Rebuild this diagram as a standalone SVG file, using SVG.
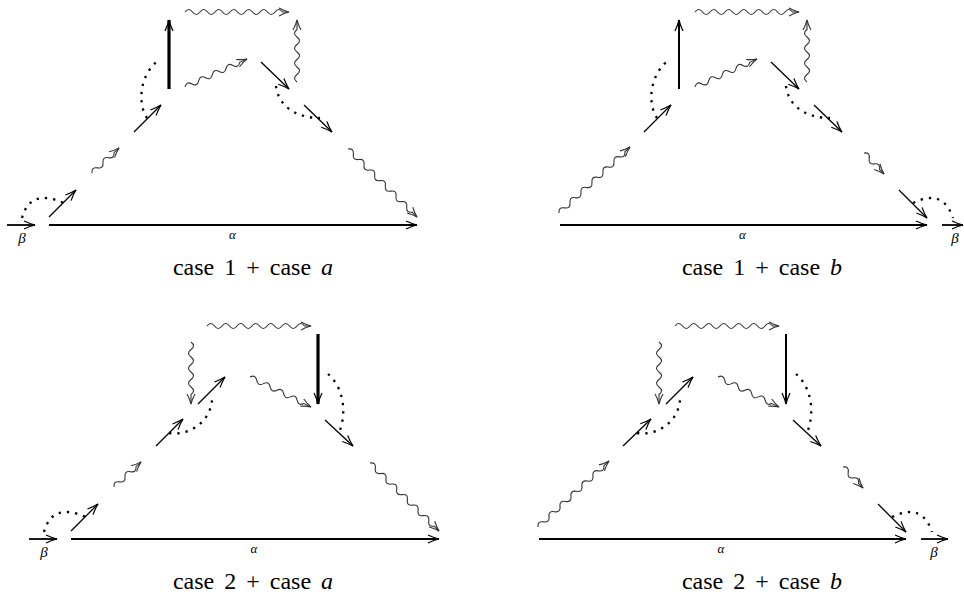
<svg xmlns="http://www.w3.org/2000/svg" width="964" height="597" viewBox="0 0 964 597">
<style>
.ln{stroke:#000;stroke-width:1.8;fill:none;marker-end:url(#ah)}
.ar{stroke:#000;stroke-width:1.3;fill:none;marker-end:url(#ah)}
.thk{stroke:#000;stroke-width:3.2;fill:none;marker-end:url(#ah)}
.mid{stroke:#000;stroke-width:2;fill:none;marker-end:url(#ah)}
.dot{stroke:#000;stroke-width:2.3;fill:none;stroke-dasharray:2.3 6}
.wv{stroke:#333;stroke-width:1.1;fill:none;marker-end:url(#wh)}
.cap{font-family:"Liberation Serif","Times New Roman",serif;font-size:24px;text-anchor:middle;word-spacing:4px;fill:#000}
.gk{font-family:"Liberation Serif","Times New Roman",serif;font-style:italic;text-anchor:middle;fill:#000}
</style>
<defs>
<marker id="ah" markerUnits="userSpaceOnUse" orient="auto" markerWidth="1" markerHeight="1" style="overflow:visible">
<path d="M-11 -4 Q-5 -1.2 0 0 Q-5 1.2 -11 4" fill="none" stroke="#000" stroke-width="1.2"/>
</marker>
<marker id="wh" markerUnits="userSpaceOnUse" orient="auto" markerWidth="1" markerHeight="1" style="overflow:visible">
<path d="M-10 -4 Q-5 -1.2 0 0 Q-5 1.2 -10 4" fill="none" stroke="#333" stroke-width="1.1"/>
</marker>
<path id="w104" class="wv" d="M0 0q3.75 -5 7.5 0t7.5 0t7.5 0t7.5 0t7.5 0t7.5 0t7.5 0t7.5 0t7.5 0t7.5 0t7.5 0t7.5 0t7.5 0L104 0"/>
<path id="w97" class="wv" d="M0 0q3.75 -5 7.5 0t7.5 0t7.5 0t7.5 0t7.5 0t7.5 0t7.5 0t7.5 0t7.5 0t7.5 0t7.5 0t7.5 0L97 0"/>
<path id="w68" class="wv" d="M0 0q3.75 -5 7.5 0t7.5 0t7.5 0t7.5 0t7.5 0t7.5 0t7.5 0t7.5 0L68 0"/>
<path id="w62" class="wv" d="M0 0q3.75 -5 7.5 0t7.5 0t7.5 0t7.5 0t7.5 0t7.5 0t7.5 0L62 0"/>
<path id="w37" class="wv" d="M0 0q3.75 -5 7.5 0t7.5 0t7.5 0t7.5 0L37 0"/>
<path id="w29" class="wv" d="M0 0q3.75 -5 7.5 0t7.5 0t7.5 0L29 0"/>
</defs>
<rect width="964" height="597" fill="#fff"/>

<g id="connectors">
<g id="q1">
<path class="ln" d="M7 225H35"/>
<path class="ln" d="M49 225H417"/>
<path class="dot" d="M22 218Q30 188 64 203"/>
<path class="ar" d="M49 217L76 190"/>
<use href="#w37" transform="translate(92,173) rotate(-42.8)"/>
<path class="ar" d="M134 132L161 105"/>
<path class="dot" d="M147 118C138 105 138 75 160 59"/>
<path class="thk" d="M169 89V20"/>
<use href="#w104" transform="translate(185,12)"/>
<use href="#w68" transform="translate(185,87) rotate(-24.3)"/>
<use href="#w62" transform="translate(297,82) rotate(-90)"/>
<path class="ar" d="M261 62L289 89"/>
<path class="dot" d="M276 86C278 105 295 118 320 118"/>
<path class="ar" d="M304 105L332 132"/>
<use href="#w97" transform="translate(348,149) rotate(44.6)"/>
</g>
<g id="q2">
<path class="ln" d="M560 225H927"/>
<path class="ln" d="M942 225H963"/>
<use href="#w97" transform="translate(559,213) rotate(-42.9)"/>
<path class="ar" d="M644 132L671 105"/>
<path class="dot" d="M657 118C648 105 648 75 670 59"/>
<path class="mid" d="M679 89V20"/>
<use href="#w104" transform="translate(695,12)"/>
<use href="#w68" transform="translate(695,87) rotate(-24.3)"/>
<use href="#w62" transform="translate(807,82) rotate(-90)"/>
<path class="ar" d="M771 62L799 89"/>
<path class="dot" d="M786 86C788 105 805 118 830 118"/>
<path class="ar" d="M814 105L842 132"/>
<use href="#w29" transform="translate(864,153) rotate(46.4)"/>
<path class="ar" d="M899 190L927 218"/>
<path class="dot" d="M913 203Q943 188 953 218"/>
</g>
<g id="q3">
<path class="ln" d="M29 539H57"/>
<path class="ln" d="M71 539H439"/>
<path class="dot" d="M44 532Q52 502 86 517"/>
<path class="ar" d="M71 531L98 504"/>
<use href="#w37" transform="translate(114,487) rotate(-42.8)"/>
<path class="ar" d="M156 446L183 419"/>
<path class="dot" d="M169 433C190 436 210 422 212 400"/>
<path class="ar" d="M198 404L225 377"/>
<use href="#w62" transform="translate(191,342) rotate(90)"/>
<use href="#w104" transform="translate(207,326)"/>
<path class="thk" d="M318 334V404"/>
<use href="#w68" transform="translate(250,377) rotate(26.2)"/>
<path class="dot" d="M328 374C342 386 348 410 339 433"/>
<path class="ar" d="M325 420L353 446"/>
<use href="#w97" transform="translate(370,463) rotate(44.6)"/>
</g>
<g id="q4">
<path class="ln" d="M539 539H906"/>
<path class="ln" d="M921 539H948"/>
<use href="#w97" transform="translate(538,527) rotate(-42.9)"/>
<path class="ar" d="M623 446L651 419"/>
<path class="dot" d="M637 433C658 436 678 422 680 400"/>
<path class="ar" d="M666 404L693 377"/>
<use href="#w62" transform="translate(659,342) rotate(90)"/>
<use href="#w104" transform="translate(675,326)"/>
<path class="mid" d="M786 334V404"/>
<use href="#w68" transform="translate(718,377) rotate(26.2)"/>
<path class="dot" d="M796 374C810 386 816 410 807 433"/>
<path class="ar" d="M793 420L821 446"/>
<use href="#w29" transform="translate(843,467) rotate(46.4)"/>
<path class="ar" d="M878 504L906 532"/>
<path class="dot" d="M892 517Q922 502 932 532"/>
</g>
</g>

<g id="labels">
<text class="gk" x="232.5" y="238.5" font-size="13">α</text>
<text class="gk" x="22" y="243" font-size="15">β</text>
<text class="cap" x="253" y="275">case 1 + case <tspan font-style="italic">a</tspan></text>
<text class="gk" x="742.5" y="238.5" font-size="13">α</text>
<text class="gk" x="955" y="243" font-size="15">β</text>
<text class="cap" x="762" y="275">case 1 + case <tspan font-style="italic">b</tspan></text>
<text class="gk" x="254" y="553" font-size="13">α</text>
<text class="gk" x="44" y="557" font-size="15">β</text>
<text class="cap" x="253" y="589">case 2 + case <tspan font-style="italic">a</tspan></text>
<text class="gk" x="721" y="553" font-size="13">α</text>
<text class="gk" x="934" y="557" font-size="15">β</text>
<text class="cap" x="762" y="589">case 2 + case <tspan font-style="italic">b</tspan></text>
</g>
</svg>
